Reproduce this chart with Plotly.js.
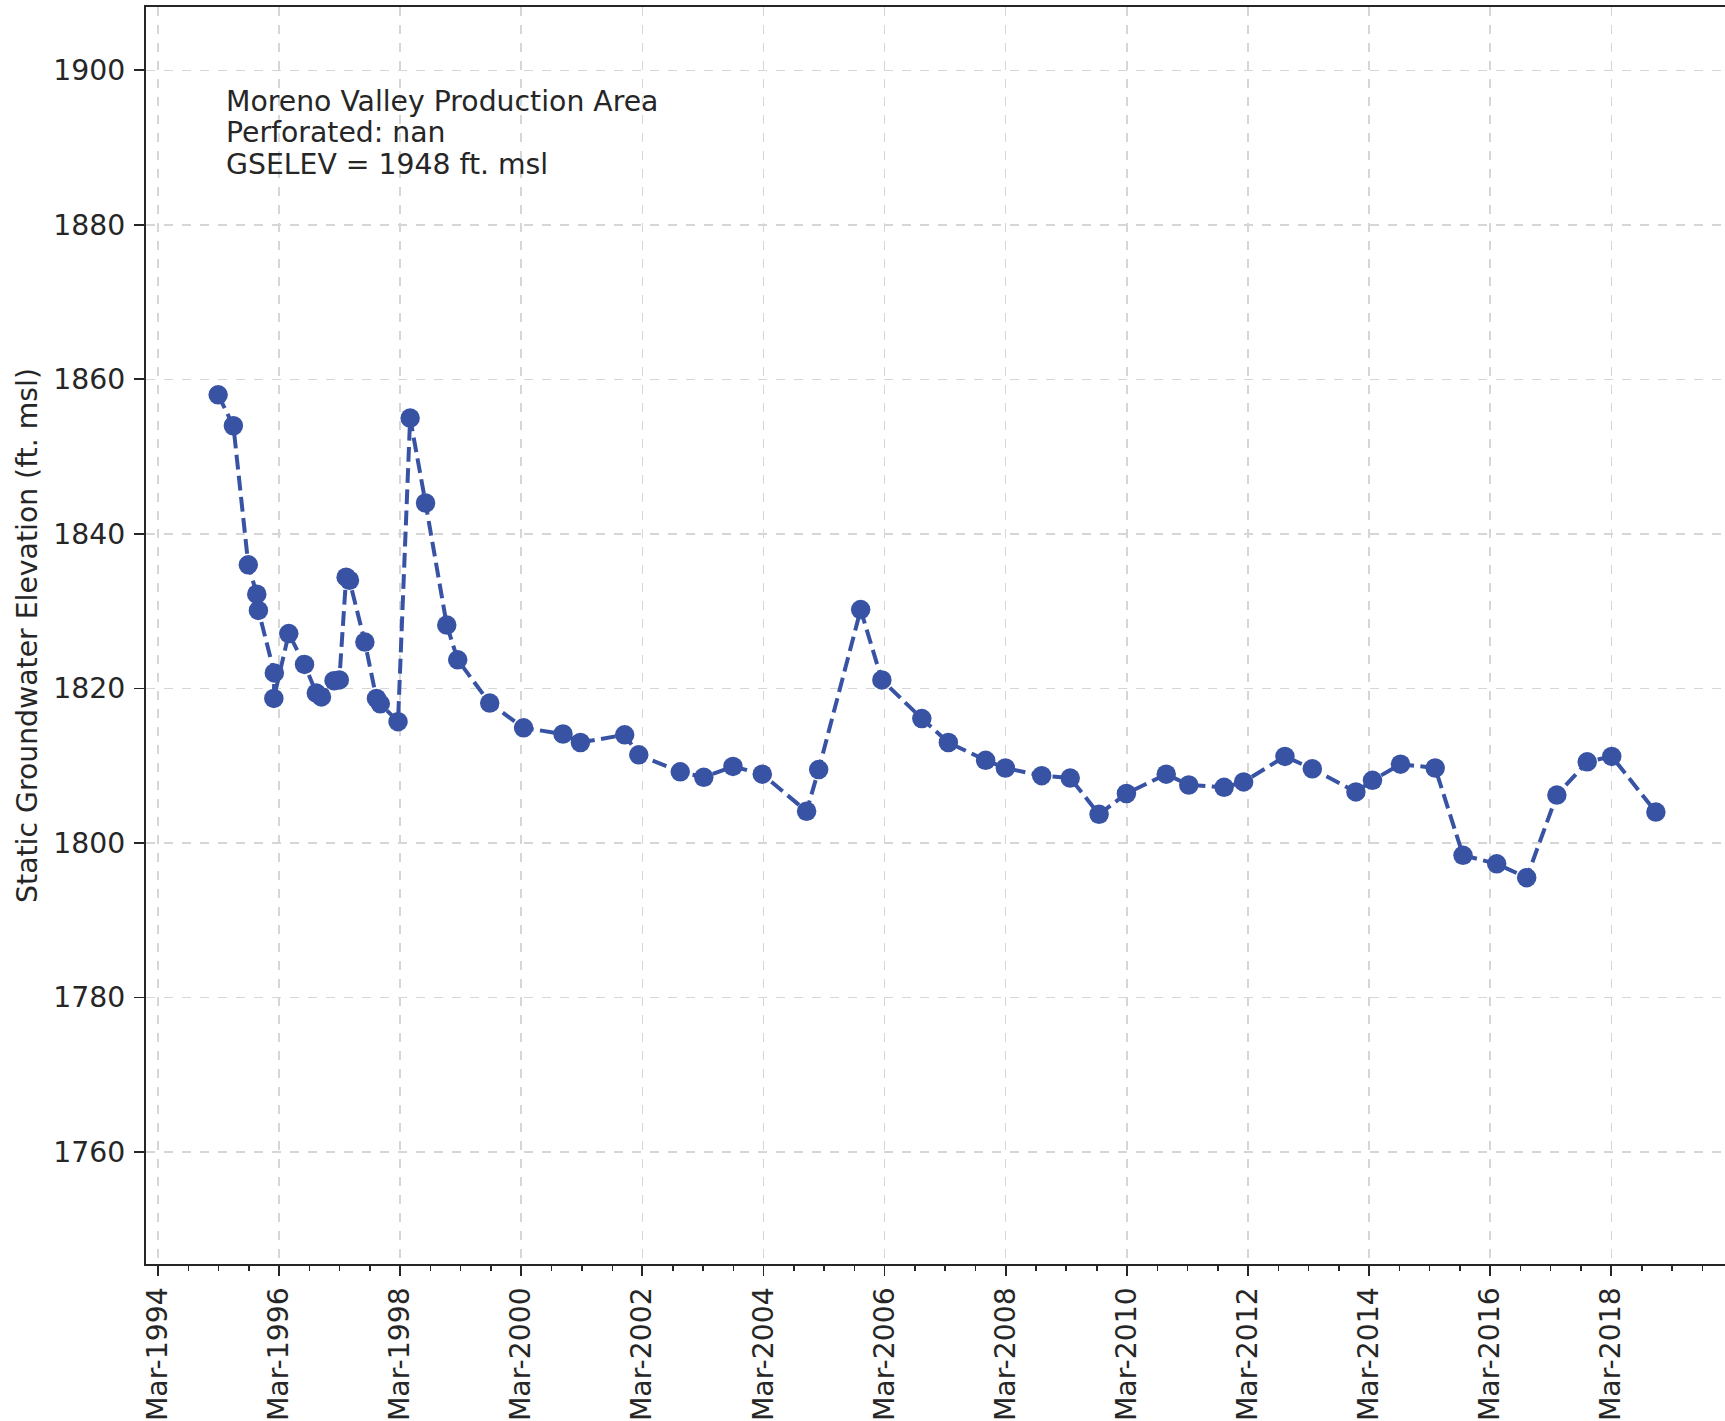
<!DOCTYPE html>
<html>
<head>
<meta charset="utf-8">
<script src="https://cdn.plot.ly/plotly-3.0.1.min.js"></script>
<style>html,body{margin:0;padding:0;background:#fff;}#chart{width:1725px;height:1421px;}</style>
</head>
<body>
<div id="chart"></div>
<script>
const dates = [
  "1995-02-28","1995-05-31","1995-08-29","1995-10-19","1995-10-29","1996-02-02","1996-01-30",
  "1996-04-29","1996-08-02","1996-10-12","1996-11-12","1997-01-27","1997-02-28","1997-04-10",
  "1997-04-30","1997-08-01","1997-10-10","1997-11-02","1998-02-17","1998-05-01","1998-08-02",
  "1998-12-08","1999-02-12","1999-08-24","2000-03-15","2000-11-08","2001-02-21","2001-11-15",
  "2002-02-08","2002-10-16","2003-03-07","2003-08-30","2004-02-23","2004-11-16","2005-01-28",
  "2005-10-08","2006-02-13","2006-10-12","2007-03-21","2007-11-01","2008-02-28","2008-10-04",
  "2009-03-25","2009-09-15","2010-02-27","2010-10-25","2011-03-10","2011-10-09","2012-02-04",
  "2012-10-10","2013-03-24","2013-12-12","2014-03-22","2014-09-07","2015-04-04","2015-09-19",
  "2016-04-09","2016-10-07","2017-04-07","2017-10-07","2018-03-04","2018-11-25"
];
const elevations = [
  1858.0,1854.0,1836.0,1832.2,1830.1,1822.0,1818.7,
  1827.1,1823.1,1819.4,1818.9,1821.0,1821.1,1834.4,
  1834.0,1826.0,1818.7,1818.0,1815.7,1855.0,1844.0,
  1828.2,1823.7,1818.1,1814.9,1814.1,1813.0,1814.0,
  1811.4,1809.2,1808.5,1809.9,1808.9,1804.1,1809.5,
  1830.2,1821.1,1816.1,1813.0,1810.7,1809.7,1808.7,
  1808.4,1803.7,1806.4,1808.9,1807.5,1807.2,1807.9,
  1811.2,1809.6,1806.6,1808.1,1810.2,1809.7,1798.4,
  1797.3,1795.5,1806.2,1810.5,1811.2,1804.0
];
const infoLines = [
  "Moreno Valley Production Area",
  "Perforated: nan",
  "GSELEV = 1948 ft. msl"
];
const yTitle = "Static Groundwater Elevation (ft. msl)";

const FONT = "DejaVu Sans, sans-serif";
const FS = 28.3;
const TXT = "#262626";
const markerColor = "#3953a4";

const trace = {
  x: dates, y: elevations, type: "scatter", mode: "lines+markers",
  line: {color: markerColor, width: 4, dash: "14.8px,6.4px"},
  marker: {color: markerColor, size: 19.5},
  hoverinfo: "skip"
};

const annY = [101, 133, 165];
const plotTop = 7, plotBottom = 1264;
const annotations = infoLines.map((t, i) => ({
  text: t, xref: "paper", yref: "paper",
  x: (224 - 146) / (1725 - 146), xanchor: "left",
  y: (plotBottom - annY[i]) / (plotBottom - plotTop), yanchor: "middle",
  showarrow: false, font: {family: FONT, size: FS, color: TXT}
}));

const layout = {
  width: 1725, height: 1421,
  margin: {l: 146, r: 0, t: 7, b: 157, pad: 0},
  paper_bgcolor: "#ffffff", plot_bgcolor: "#ffffff",
  showlegend: false,
  font: {family: FONT, size: FS, color: TXT},
  xaxis: {
    type: "date",
    range: ["1993-12-20", "2020-01-16"],
    tick0: "1994-03-01", dtick: "M24", tickformat: "%b-%Y",
    tickangle: -90,
    ticks: "outside", ticklen: 10, tickwidth: 1.8, tickcolor: TXT,
    minor: {tick0: "1994-03-01", dtick: "M6", ticks: "outside", ticklen: 5, tickwidth: 1.5, tickcolor: TXT, showgrid: false},
    showline: true, linecolor: TXT, linewidth: 2, mirror: true,
    showgrid: true, gridcolor: "#d6d6d6", gridwidth: 1.5, griddash: "dash",
    zeroline: false,
    tickfont: {family: FONT, size: FS, color: TXT},
    automargin: false
  },
  yaxis: {
    range: [1745.5, 1908.2],
    tick0: 1760, dtick: 20,
    ticks: "outside", ticklen: 10, tickwidth: 1.8, tickcolor: TXT,
    ticklabelstandoff: 3,
    showline: true, linecolor: TXT, linewidth: 2,
    showgrid: true, gridcolor: "#d6d6d6", gridwidth: 1.5, griddash: "dash",
    zeroline: false,
    tickfont: {family: FONT, size: FS, color: TXT},
    title: {text: yTitle, font: {family: FONT, size: FS, color: TXT}, standoff: 7},
    automargin: false
  },
  annotations: annotations
};

Plotly.newPlot("chart", [trace], layout, {staticPlot: true, displayModeBar: false});
</script>
</body>
</html>
